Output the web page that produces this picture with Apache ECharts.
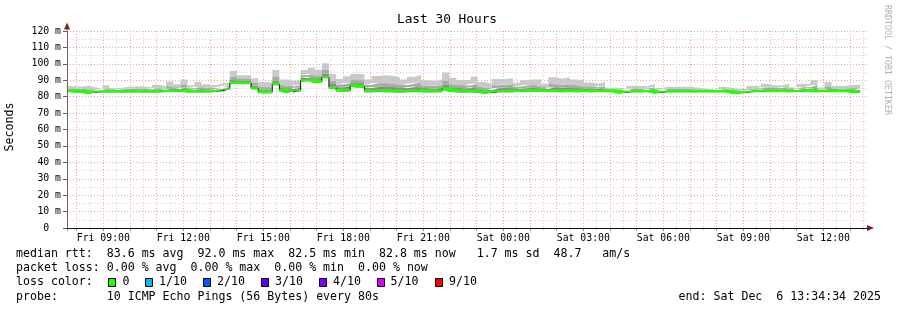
<!DOCTYPE html>
<html><head><meta charset="utf-8">
<script src="https://cdn.jsdelivr.net/npm/echarts@6/dist/echarts.min.js"></script>
<style>html,body{margin:0;padding:0;background:#fff}#c{width:897px;height:310px}</style>
</head><body><div id="c"></div>
<script>
// ---- data ----
const chartTitle = 'Last 30 Hours';
const yAxisName = 'Seconds';
const startHour = 7.639;   // Fri 07:38 in hours since Fri 00:00
const endHour = 37.639;    // Sat 13:38
const dayNames = ['Fri', 'Sat'];
const stepSlots = Array.from({length: 114}, (_, k) => k);   // 16-min RRD slots across the plot

const medianRtt = [83.6,83.4,83.2,82.5,83.3,83.3,83.3,83.3,83.3,83.3, 83.3,83.3,83.4,83.4,83.6,83.6,83.8,83.3,83.3,83.3,
  83.3,83.6,84.8,88.5,88.5,88.5,85.3,82.9,82.9,87.8, 84.0,82.9,83.9,89.8,90.3,89.2,92.0,85.6,84.0,83.8,
  87.0,86.3,83.6,83.6,83.8,83.6,83.6,83.4,83.6,83.8, 83.6,83.5,83.6,85.0,83.8,83.5,83.4,83.5,83.3,82.6,
  83.2,83.6,83.6,83.5,83.6,83.8,83.6,83.6,83.6,83.6, 83.5,83.6,83.5,83.6,83.5,83.6,83.5,83.4,82.5,83.3,
  83.3,83.3,83.5,82.5,83.3,83.3,83.3,83.3,83.3,83.3, 83.3,83.3,83.4,83.3,82.5,82.5,83.4,83.4,83.6,83.5,
  83.5,83.6,83.3,83.6,83.8,83.6,83.4,83.6,83.5,83.5, 83.5,83.0];
const smokeMin = [82.8,82.6,82.4,81.7,82.5,82.5,82.5,82.5,82.5,82.5, 82.5,82.5,82.6,82.6,82.8,82.8,83.0,82.5,82.5,82.5,
  82.5,82.8,84.0,87.6,87.6,87.6,84.5,82.1,82.1,87.0, 83.2,82.1,83.1,89.0,89.5,88.4,91.2,84.6,83.2,83.0,
  86.2,85.5,82.6,82.6,82.8,82.6,82.6,82.4,82.6,82.8, 82.6,82.5,82.6,84.0,82.8,82.5,82.4,82.5,82.3,81.8,
  82.2,82.6,82.6,82.7,82.8,83.0,82.8,82.8,82.8,82.8, 82.7,82.8,82.7,82.8,82.7,82.8,82.9,82.8,81.9,82.7,
  82.7,82.7,82.9,81.9,82.7,82.7,82.7,82.7,82.7,82.7, 82.7,82.7,82.8,82.7,81.9,81.9,82.8,82.8,83.0,82.9,
  82.9,83.0,82.7,83.0,83.2,83.0,82.8,83.0,82.9,82.9, 82.9,82.4];
const smokeDark = [84.3,84.1,84.1,83.3,83.7,84.2,83.7,83.9,84.0,84.0, 84.0,83.9,84.4,84.1,85.0,84.6,85.5,84.2,84.7,84.4,
  84.2,84.7,85.8,90.3,89.6,89.6,86.8,84.4,84.3,89.9, 85.6,84.6,85.4,91.4,92.2,91.0,94.1,87.7,85.7,86.0,
  88.7,88.1,85.3,85.9,86.1,85.9,85.7,85.2,85.7,86.2, 85.2,85.0,85.3,87.4,85.7,85.2,85.1,85.7,84.7,83.9,
  85.1,85.4,85.5,84.8,85.2,85.5,85.3,84.7,85.7,85.4, 85.6,85.3,85.1,84.9,84.6,84.9,84.0,83.9,83.1,84.1,
  84.1,84.1,84.6,83.2,84.0,84.0,84.0,84.0,83.9,83.7, 83.7,83.7,84.1,83.8,83.0,83.0,84.2,84.2,84.7,84.4,
  84.4,84.7,83.9,84.6,84.8,85.3,84.0,84.9,84.3,84.3, 84.4,84.0];
const smokeMid = [85.0,84.7,84.9,84.2,84.2,85.2,84.2,84.5,84.8,84.8, 84.8,84.6,85.3,84.8,86.5,85.6,87.1,85.2,86.1,85.5,
  85.2,85.8,86.8,92.1,90.8,90.8,88.3,85.9,85.8,92.0, 87.2,86.2,87.0,93.0,94.0,92.8,96.2,89.7,87.4,88.1,
  90.4,90.0,87.1,88.1,88.4,88.2,87.7,87.0,87.8,88.5, 86.8,86.6,87.0,89.9,87.7,86.9,86.8,87.8,86.2,85.3,
  87.0,87.2,87.4,86.0,86.8,87.2,87.0,85.8,87.8,87.3, 87.7,87.1,86.8,86.1,85.7,86.3,84.5,84.5,83.8,84.9,
  84.9,84.9,85.6,83.9,84.7,84.7,84.7,84.7,84.5,84.2, 84.0,84.0,84.7,84.3,83.6,83.6,85.0,85.0,85.7,85.3,
  85.3,85.7,84.6,85.7,85.8,86.9,84.5,86.3,85.0,85.0, 85.3,85.1];
const smokeMax = [86.4,86.0,86.6,85.8,85.0,87.0,85.0,85.6,86.2,86.2, 86.2,85.8,87.2,86.2,89.3,87.5,90.4,87.0,88.9,87.6,
  87.0,88.0,88.7,95.6,93.0,93.0,91.2,88.9,88.6,96.2, 90.4,89.5,90.0,96.2,97.7,96.4,100.3,93.8,90.8,92.4,
  93.8,93.6,90.5,92.6,93.0,92.7,91.8,90.5,92.0,93.2, 90.0,89.6,90.4,94.7,91.5,90.2,90.2,92.1,89.0,87.9,
  90.7,90.8,91.2,88.5,90.0,90.5,90.4,87.9,91.9,90.9, 91.9,90.5,90.0,88.6,87.9,88.9,85.5,85.5,85.0,86.5,
  86.5,86.5,87.7,85.3,86.0,86.0,86.0,86.0,85.6,85.0, 84.7,84.7,86.0,85.3,84.6,84.6,86.5,86.5,87.8,87.0,
  87.0,87.8,85.8,87.7,87.7,90.2,85.6,88.9,86.5,86.5, 87.1,87.1];

const legendLines = [
  'median rtt:  83.6 ms avg  92.0 ms max  82.5 ms min  82.8 ms now   1.7 ms sd  48.7   am/s',
  'packet loss: 0.00 % avg  0.00 % max  0.00 % min  0.00 % now',
  'loss color:',
  'probe:       10 ICMP Echo Pings (56 Bytes) every 80s'
];
const lossLabels = ['0', '1/10', '2/10', '3/10', '4/10', '5/10', '9/10'];
const lossColors = ['#20ff00', '#00b8ff', '#0059ff', '#5e00ff', '#7e00ff', '#dd00ff', '#ff0000'];
const endText = 'end: Sat Dec  6 13:34:34 2025';
const watermark = 'RRDTOOL / TOBI OETIKER';

// ---- styles ----
const MONO = '"DejaVu Sans Mono", monospace';
const GREEN_HALF = 0.8;
const RED_GRID = '#f2a2a2', GREY_GRID = '#d2d2d2', ARROW = '#7f1f1f';

const ext = a => a.concat([a[a.length - 1]]);
const diff = (a, b) => a.map((v, i) => +(v - b[i]).toFixed(2));
const pad = n => (n < 10 ? '0' : '') + n;

function band(data, color, stack, z) {
  return { type: 'line', stack: stack, data: ext(data), step: 'end', symbol: 'none', silent: true,
    xAxisIndex: 0, yAxisIndex: 0, z: z,
    lineStyle: { width: 0, opacity: 0 },
    areaStyle: color ? { color: color, opacity: 1 } : undefined };
}

const chart = echarts.init(document.getElementById('c'), null, { renderer: 'canvas' });
const noAx = { axisLine: { show: false }, axisTick: { show: false }, axisLabel: { show: false }, splitLine: { show: false } };
const xa = o => Object.assign({}, noAx, { position: 'bottom', offset: 0 }, o);
const ya = o => Object.assign({}, noAx, { position: 'left', offset: 0 }, o);

const legendEls = [];
const rowY = [254.3, 268.3, 282.3, 296.7];
const txt = (x, y, t, font, fill, align, rot) => ({ type: 'text', x: x, y: y, rotation: rot || 0,
  style: { text: t, font: font, fill: fill, align: align, verticalAlign: 'middle', textAlign: align, textVerticalAlign: 'middle' } });
legendLines.forEach((t, i) => legendEls.push(txt(16, rowY[i], t, '11.6px ' + MONO, '#000', 'left')));
const boxX = [108.5, 145.5, 203.5, 261.5, 319.5, 377.5, 435.5];
const lblX = [122.5, 159, 217, 275, 333, 390.5, 449];
lossLabels.forEach((t, i) => {
  legendEls.push({ type: 'rect', shape: { x: boxX[i], y: 278.5, width: 7, height: 8 },
    style: { fill: lossColors[i], stroke: '#000', lineWidth: 1 } });
  legendEls.push(txt(lblX[i], rowY[2], t, '11.6px ' + MONO, '#000', 'left'));
});
legendEls.push(txt(881, rowY[3], endText, '11.6px ' + MONO, '#000', 'right'));
legendEls.push(txt(447, 19.5, chartTitle, '12.8px ' + MONO, '#000', 'center'));
legendEls.push(txt(10, 127, yAxisName, '11.6px ' + MONO, '#000', 'center', Math.PI / 2));
legendEls.push(txt(887, 60, watermark, '8.3px ' + MONO, '#b0b0b0', 'center', -Math.PI / 2));

chart.setOption({
  animation: false,
  backgroundColor: '#ffffff',
  textStyle: { fontFamily: MONO },
  grid: { left: 67, right: 30, top: 31, bottom: 82, containLabel: false, outerBoundsMode: 'none' },
  xAxis: [
    { type: 'category', data: stepSlots, boundaryGap: false, show: false, position: 'bottom' },
    xa({ type: 'value', min: startHour + 0.5, max: endHour + 0.5, splitNumber: 30, z: 0,
      axisTick: { show: true, length: 2, lineStyle: { color: '#b8b8b8' } },
      splitLine: { show: true, showMinLine: false, showMaxLine: false, lineStyle: { color: GREY_GRID, type: [1, 2], width: 1 } } }),
    xa({ type: 'value', min: startHour, max: endHour, splitNumber: 30, z: 0,
      axisTick: { show: true, length: 3, lineStyle: { color: '#e07070' } },
      splitLine: { show: true, showMinLine: false, showMaxLine: false, lineStyle: { color: RED_GRID, type: [1, 2], width: 1 } } }),
    xa({ type: 'value', min: startHour, max: endHour, splitNumber: 10, z: 0,
      axisLabel: { show: true, showMinLabel: false, showMaxLabel: false, margin: 5, color: '#000',
        fontFamily: MONO, fontSize: 9.8,
        formatter: v => dayNames[v >= 24 ? 1 : 0] + ' ' + pad(Math.round(v) % 24) + ':00' } }),
    xa({ type: 'value', min: startHour, max: endHour, z: 4,
      axisLine: { show: true, symbol: ['none', 'triangle'], symbolSize: [6, 7], symbolOffset: [0, 3.5], lineStyle: { color: ARROW, width: 1 } } }),
    xa({ type: 'value', min: startHour, max: endHour, z: 5,
      axisLine: { show: true, lineStyle: { color: '#111', width: 1 } } })
  ],
  yAxis: [
    ya({ type: 'value', min: 0, max: 120, interval: 10, z: 0,
      axisTick: { show: true, length: 4, lineStyle: { color: '#606060' } },
      axisLabel: { show: true, margin: 6, color: '#000', fontFamily: MONO, fontSize: 9.8,
        formatter: v => v === 0 ? '0  ' : v + ' m' },
      splitLine: { show: true, lineStyle: { color: RED_GRID, type: [1, 2], width: 1 } } }),
    ya({ type: 'value', min: 5, max: 125, splitNumber: 12, z: 0,
      splitLine: { show: true, showMinLine: false, showMaxLine: false, lineStyle: { color: GREY_GRID, type: [1, 2], width: 1 } } }),
    ya({ type: 'value', min: 0, max: 120, z: 4,
      axisLine: { show: true, symbol: ['none', 'triangle'], symbolSize: [6, 7], symbolOffset: [0, 5], lineStyle: { color: ARROW, width: 1 } } }),
    ya({ type: 'value', min: 0, max: 120, z: 5,
      axisLine: { show: true, lineStyle: { color: '#666', width: 1 } } })
  ],
  series: [
    band(smokeMin, null, 'smoke', 2),
    band(diff(smokeDark, smokeMin), '#8a8a8a', 'smoke', 2),
    band(diff(smokeMid, smokeDark), '#a8a8a8', 'smoke', 2),
    band(diff(smokeMax, smokeMid), '#c9c9c9', 'smoke', 2),
    { type: 'line', data: ext(medianRtt), step: 'end', symbol: 'none', silent: true, xAxisIndex: 0, yAxisIndex: 0, z: 3,
      lineStyle: { color: '#111', width: 1 } },
    band(medianRtt.map(v => +(v - GREEN_HALF).toFixed(2)), null, 'loss', 4),
    band(medianRtt.map(() => 2 * GREEN_HALF), lossColors[0], 'loss', 4)
  ],
  graphic: { elements: legendEls }
});
</script></body></html>
